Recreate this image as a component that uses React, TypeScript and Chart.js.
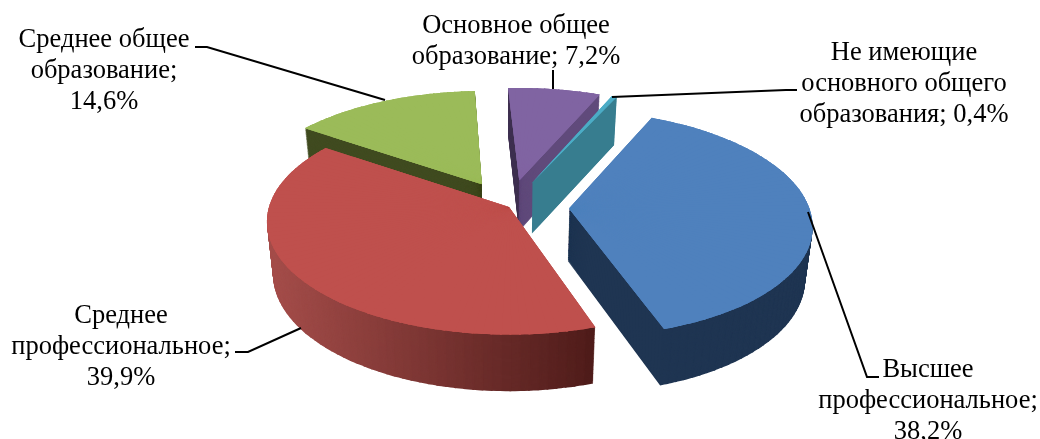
import React, { useEffect, useRef } from "react";
import { Chart, registerables } from "chart.js";

Chart.register(...registerables);

// ---- data ----
const categories = [
  "Высшее профессиональное",
  "Среднее профессиональное",
  "Среднее общее образование",
  "Основное общее образование",
  "Не имеющие основного общего образования",
];
const values = [38.2, 39.9, 14.6, 7.2, 0.4];
const labelLines = [
  ["Высшее", "профессиональное;", "{v}"],
  ["Среднее", "профессиональное;", "{v}"],
  ["Среднее общее", "образование;", "{v}"],
  ["Основное общее", "образование; {v}"],
  ["Не имеющие", "основного общего", "образования; {v}"],
];

// ---- style ----
const faceColors = ["#4f81bd", "#bf504d", "#9bbb59", "#8064a2", "#4bacc6"];
const wallFrom = ["#1f3552", "#a64e4b", "#404b20", "#604a7b", "#377d8f"];
const wallTo = ["#1f3552", "#4f1c1a", "#404b20", "#604a7b", "#377d8f"];
const wallFirst = ["#1f3552", "#4f1c1a", "#404b20", "#3f3151", "#377d8f"];
const explosion = [0.25, 0, 0.24, 0.25, 0.25];
const paintOrder = [2, 3, 4, 0, 1];
const labelPos = [
  { x: 928, y: 377 },
  { x: 121, y: 323 },
  { x: 104, y: 47 },
  { x: 516, y: 33 },
  { x: 904, y: 60 },
];
const leaders = [
  [[808, 212], [867, 377], [879, 377]],
  [[235, 352], [248, 352], [301, 328]],
  [[195, 47], [207, 47], [385, 100]],
  [[553, 70], [553, 89]],
  [[612, 97], [786, 90], [797, 90]],
];
const FONT = '26.5px "Liberation Serif"';
const LINE_H = 31;
const ROTATION = 24.5;

// camera model of the tilted disc
const CX = 509, CY = 207, RX = 240, KY = 111, Q = 0.13, DEPTH = 52, SHRINK = 0.025;
const LAYERS = 60;
const STEP = (2 * Math.PI) / 180;
const SEAM = (0.4 * Math.PI) / 180;
const SLIVER = (5 * Math.PI) / 180;

function project(X: number, Y: number, t: number) {
  const w = 1 - Q * Y;
  const s = 1 - SHRINK * t;
  return {
    x: CX + (RX * s * X) / w,
    y: CY + (KY * s * Y) / w + (DEPTH * t) / w,
  };
}

function mix(a: string, b: string, t: number) {
  const ch = (h: string, i: number) => parseInt(h.slice(1 + i * 2, 3 + i * 2), 16);
  const p = [0, 1, 2].map((i) => Math.round(ch(a, i) + (ch(b, i) - ch(a, i)) * t));
  return `rgb(${p[0]},${p[1]},${p[2]})`;
}

function drawWedge(ctx: any, el: any, i: number, a0: number, a1: number, a1Draw: number, t: number, color: string) {
  const mid = (el.__start + el.__end) / 2;
  const ex = explosion[i] * Math.cos(mid);
  const ey = explosion[i] * Math.sin(mid);
  const A = project(ex, ey, t);
  const P0 = project(ex + Math.cos(a0), ey + Math.sin(a0), t);
  const P1 = project(ex + Math.cos(a1), ey + Math.sin(a1), t);
  const R = el.__radius;
  const v0x = R * Math.cos(a0), v0y = R * Math.sin(a0);
  const v1x = R * Math.cos(a1), v1y = R * Math.sin(a1);
  const t0x = P0.x - A.x, t0y = P0.y - A.y, t1x = P1.x - A.x, t1y = P1.y - A.y;
  const det = v0x * v1y - v1x * v0y;
  const a = (t0x * v1y - t1x * v0y) / det;
  const c = (-t0x * v1x + t1x * v0x) / det;
  const b = (t0y * v1y - t1y * v0y) / det;
  const d = (-t0y * v1x + t1y * v0x) / det;
  const e = A.x - a * el.x - c * el.y;
  const f = A.y - b * el.x - d * el.y;
  el.startAngle = a0;
  el.endAngle = a1Draw;
  el.circumference = a1Draw - a0;
  el.options = { ...el.__opts, backgroundColor: color };
  ctx.save();
  ctx.transform(a, b, c, d, e, f);
  el.draw(ctx);
  ctx.restore();
}

const pie3d = {
  id: "pie3d",
  beforeDatasetDraw(chart: any) {
    const ctx = chart.ctx;
    const arcs = chart.getDatasetMeta(0).data;
    for (const i of paintOrder) {
      const el = arcs[i];
      const start = el.startAngle, end = el.endAngle, circ = el.circumference, opts = el.options;
      const radius = el.outerRadius;
      el.__start = start;
      el.__end = end;
      el.__radius = radius;
      el.__opts = {
        borderWidth: 0,
        borderColor: "transparent",
        borderAlign: "center",
        borderRadius: 0,
        offset: 0,
        spacing: 0,
        circular: true,
      };
      const mid = (start + end) / 2;
      const ex = explosion[i] * Math.cos(mid);
      const ey = explosion[i] * Math.sin(mid);
      const n = Math.max(1, Math.ceil((end - start) / STEP));
      const da = (end - start) / n;
      const sliced = (k: number) => [start + k * da, start + (k + 1) * da] as const;
      for (let l = LAYERS; l >= 1; l--) {
        const t = l / LAYERS;
        for (let k = 0; k < n; k++) {
          const [a0, a1] = sliced(k);
          const px = project(ex + Math.cos((a0 + a1) / 2), ey + Math.sin((a0 + a1) / 2), t).x;
          const g = Math.min(1, Math.max(0, (px - 267) / 328));
          const col = k === 0 ? wallFirst[i] : mix(wallFrom[i], wallTo[i], g);
          drawWedge(ctx, el, i, a0, a1, k === n - 1 ? a1 : a1 + SEAM, t, col);
        }
      }
      if (end - start < SLIVER) {
        // a very thin slice: its radial walls must stay solid down to the apex
        const top0 = project(ex, ey, 0), bot0 = project(ex, ey, 1);
        const top1 = project(ex + Math.cos(end), ey + Math.sin(end), 0);
        const bot1 = project(ex + Math.cos(end), ey + Math.sin(end), 1);
        ctx.fillStyle = wallTo[i];
        ctx.beginPath();
        ctx.moveTo(top0.x, top0.y);
        ctx.lineTo(top1.x, top1.y);
        ctx.lineTo(bot1.x, bot1.y);
        ctx.lineTo(bot0.x, bot0.y);
        ctx.closePath();
        ctx.fill();
      }
      // solid underlay near the apex, so that the thin seams there do not show
      if (n > 1) {
        el.outerRadius = radius * 0.85;
        drawWedge(ctx, el, i, start, end, end, 0, faceColors[i]);
        el.outerRadius = radius;
      }
      for (let pass = 0; pass < 2; pass++) {
        for (let k = 0; k < n; k++) {
          const [a0, a1] = sliced(k);
          drawWedge(ctx, el, i, a0, a1, k === n - 1 ? a1 : a1 + SEAM, 0, faceColors[i]);
        }
      }
      el.startAngle = start;
      el.endAngle = end;
      el.circumference = circ;
      el.options = opts;
    }
    return false;
  },
  afterDatasetsDraw(chart: any) {
    const ctx = chart.ctx;
    ctx.save();
    ctx.strokeStyle = "#000";
    ctx.lineWidth = 2;
    for (const pts of leaders) {
      ctx.beginPath();
      pts.forEach((p, j) => (j ? ctx.lineTo(p[0], p[1]) : ctx.moveTo(p[0], p[1])));
      ctx.stroke();
    }
    ctx.fillStyle = "#000";
    ctx.font = FONT;
    ctx.textAlign = "center";
    ctx.textBaseline = "alphabetic";
    labelLines.forEach((lines, i) => {
      const v = values[i].toFixed(1).replace(".", ",") + "%";
      lines.forEach((ln, j) => {
        ctx.fillText(ln.replace("{v}", v), labelPos[i].x, labelPos[i].y + j * LINE_H);
      });
    });
    ctx.restore();
  },
};

export default function App() {
  const ref = useRef<HTMLCanvasElement>(null);
  useEffect(() => {
    document.body.style.margin = "0";
    document.body.style.background = "#fff";
    const chart = new Chart(ref.current as HTMLCanvasElement, {
      type: "pie",
      data: {
        labels: categories,
        datasets: [{ data: values, backgroundColor: faceColors, borderWidth: 0 }],
      },
      options: {
        responsive: false,
        animation: false,
        rotation: ROTATION,
        events: [],
        plugins: { legend: { display: false }, tooltip: { enabled: false } },
      },
      plugins: [pie3d],
    } as any);
    return () => chart.destroy();
  }, []);
  return <canvas ref={ref} width={1040} height={439} style={{ display: "block" }} />;
}
